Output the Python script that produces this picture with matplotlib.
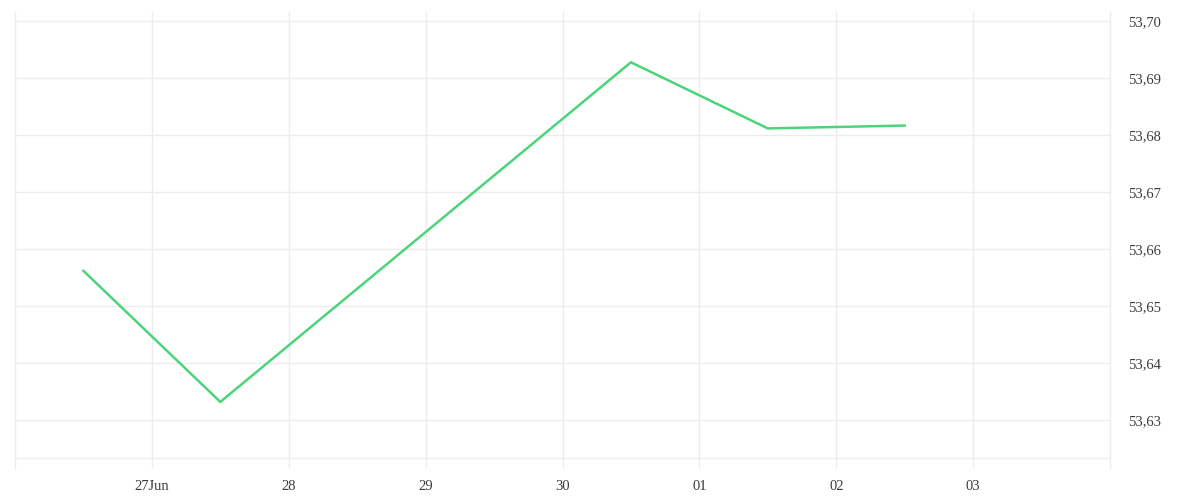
import pandas as pd
import numpy as np
import matplotlib.pyplot as plt
import matplotlib.dates as mdates
from matplotlib.ticker import FixedLocator, FuncFormatter

# data
dates = ['2022-06-26 12:00', '2022-06-27 12:00', '2022-06-30 12:00',
         '2022-07-01 12:00', '2022-07-02 12:00']
values = [53.6562, 53.6332, 53.6928, 53.6812, 53.6817]

tick_dates = ['2022-06-27', '2022-06-28', '2022-06-29', '2022-06-30',
              '2022-07-01', '2022-07-02', '2022-07-03']
tick_labels = ['27Jun', '28', '29', '30', '01', '02', '03']
yticks = [53.63, 53.64, 53.65, 53.66, 53.67, 53.68, 53.69, 53.70]

grid_col = '#ececec'
text_col = '#3a3a3a'
font = 'Liberation Serif'

fig = plt.figure(figsize=(12, 5), dpi=100)
ax = fig.add_axes([15/1200, 1 - 468/500, 1095/1200, 456/500])

x = pd.to_datetime(dates)
ax.plot(x, values, color='#4cd47a', lw=1.8, solid_joinstyle='miter')

ax.set_xlim(pd.Timestamp('2022-06-26 00:00'), pd.Timestamp('2022-07-04 00:00'))
ax.set_ylim(53.6216, 53.70163)

xt = mdates.date2num(pd.to_datetime(tick_dates))
ax.xaxis.set_major_locator(FixedLocator(xt))
ax.set_xticklabels(tick_labels)
ax.yaxis.set_major_locator(FixedLocator(yticks))
ax.yaxis.set_major_formatter(FuncFormatter(lambda v, p: f'{v:.2f}'.replace('.', ',')))
ax.yaxis.tick_right()

ax.grid(True, color=grid_col, lw=1)
ax.axhline(53.62333, color=grid_col, lw=1)
for s in ['top', 'bottom']:
    ax.spines[s].set_visible(False)
for s in ['left', 'right']:
    ax.spines[s].set_color(grid_col)
    ax.spines[s].set_linewidth(1)

ax.tick_params(axis='x', length=0, pad=9, labelsize=10.5, labelcolor=text_col)
ax.tick_params(axis='y', length=0, pad=13, labelsize=10.5, labelcolor=text_col)
for lab in ax.get_xticklabels() + ax.get_yticklabels():
    lab.set_fontfamily(font)

fig.savefig('out.png', dpi=100)
